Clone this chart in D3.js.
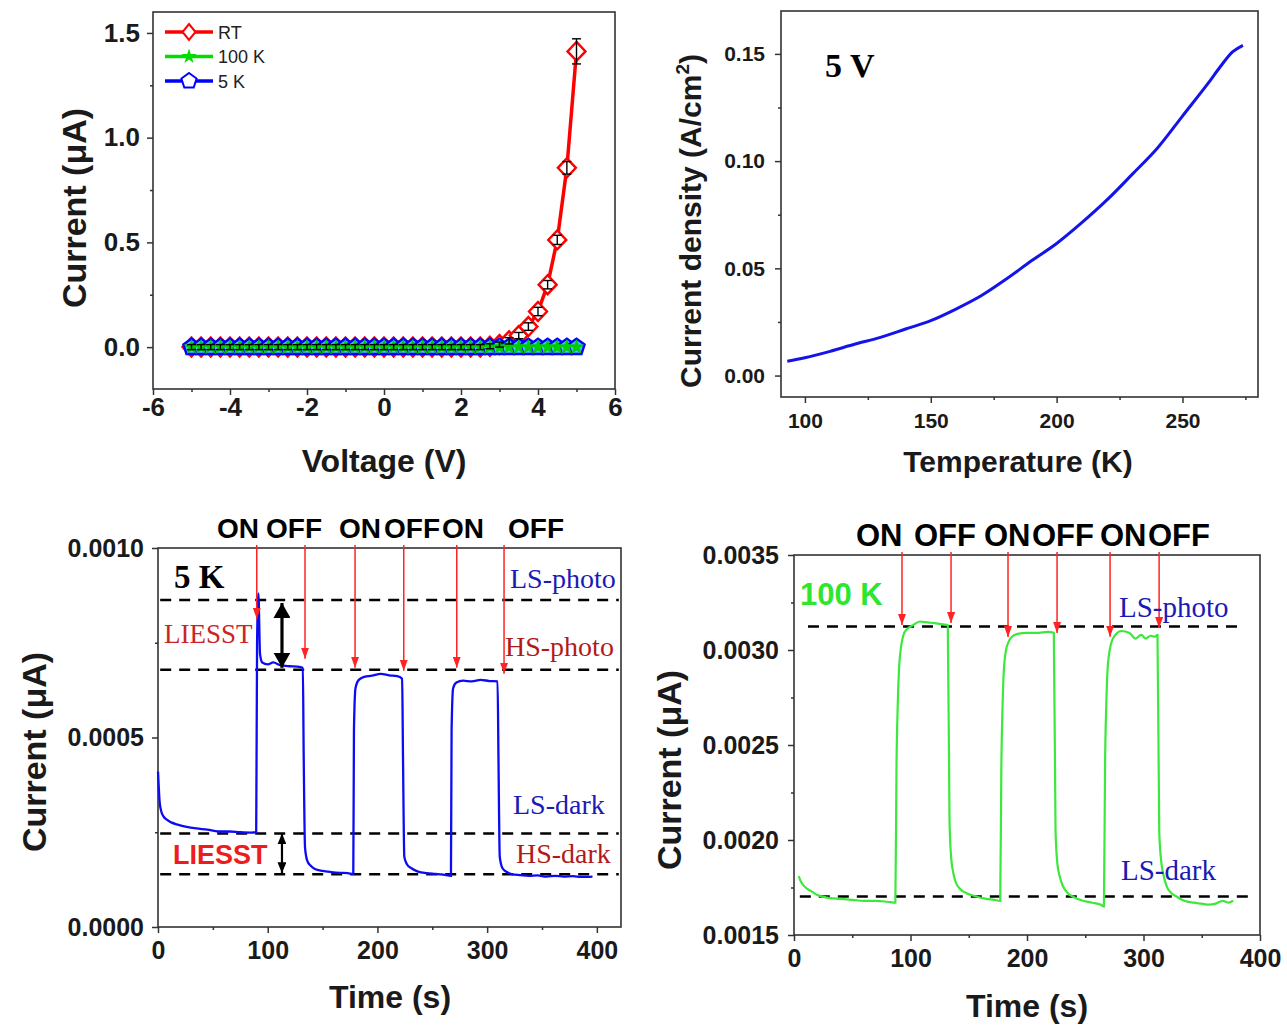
<!DOCTYPE html>
<html>
<head>
<meta charset="utf-8">
<script src="https://cdn.jsdelivr.net/npm/d3@7"></script>
<style>
  body { margin: 0; background: #fff; }
  svg { display: block; font-family: "Liberation Sans", Arial, sans-serif; }
</style>
</head>
<body>
<svg id="fig" width="1287" height="1027"></svg>
<script>
// ---------- (a) I–V curves ----------
const voltage = [-5, -4.75, -4.5, -4.25, -4, -3.75, -3.5, -3.25, -3, -2.75, -2.5, -2.25, -2, -1.75, -1.5, -1.25,
  -1, -0.75, -0.5, -0.25, 0, 0.25, 0.5, 0.75, 1, 1.25, 1.5, 1.75, 2, 2.25, 2.5, 2.75, 3, 3.25, 3.5, 3.75,
  4, 4.25, 4.5, 4.75, 5];
const currentRT = [0, 0, 0, 0, 0, 0, 0, 0, 0, 0, 0, 0, 0, 0, 0, 0, 0, 0, 0, 0, 0, 0, 0, 0, 0, 0, 0, 0, 0, 0, 0,
  0.004, 0.012, 0.03, 0.055, 0.098, 0.17, 0.298, 0.512, 0.856, 1.412];
const errorRT = [0.012, 0.012, 0.012, 0.012, 0.012, 0.012, 0.012, 0.012, 0.012, 0.012, 0.012, 0.012, 0.012, 0.012,
  0.012, 0.012, 0.012, 0.012, 0.012, 0.012, 0.012, 0.012, 0.012, 0.012, 0.012, 0.012, 0.012, 0.012, 0.012, 0.012,
  0.012, 0.012, 0.012, 0.015, 0.015, 0.018, 0.02, 0.02, 0.022, 0.03, 0.06];
const current100K = [0, 0, 0, 0, 0, 0, 0, 0, 0, 0, 0, 0, 0, 0, 0, 0, 0, 0, 0, 0, 0, 0, 0, 0, 0, 0, 0, 0, 0, 0, 0,
  0, 0, 0, 0, 0, 0, 0, 0, 0, 0];
const current5K = [0, 0, 0, 0, 0, 0, 0, 0, 0, 0, 0, 0, 0, 0, 0, 0, 0, 0, 0, 0, 0, 0, 0, 0, 0, 0, 0, 0, 0, 0, 0,
  0, 0, 0, 0, 0, 0, 0, 0, 0, 0];
const ivSeriesNames = ["RT", "100 K", "5 K"];
const ivXTicks = [-6, -4, -2, 0, 2, 4, 6];
const ivYTicks = [0, 0.5, 1.0, 1.5];

// ---------- (b) current density vs temperature at 5 V ----------
const temperature = [93, 100, 110, 120, 130, 140, 150, 160, 170, 180, 190, 200, 210, 220, 230, 240, 250, 260, 265, 270, 274];
const density = [0.0067, 0.0083, 0.0113, 0.0147, 0.0178, 0.0217, 0.0256, 0.031, 0.0372, 0.045, 0.0535, 0.0616,
  0.0713, 0.0819, 0.0938, 0.106, 0.121, 0.136, 0.144, 0.151, 0.154];
const tempXTicks = [100, 150, 200, 250];
const tempYTicks = [0, 0.05, 0.10, 0.15];

// ---------- (c) photo-switching at 5 K ----------
const time5K = [0, 0.5, 1.5, 3, 5, 8, 12, 18, 25, 35, 45, 55, 65, 75, 85, 89.5,
  90.3, 91.5, 93, 95, 100, 105, 112, 120, 127, 132,
  132.8, 134, 136, 139, 143, 150, 158, 166, 173, 178,
  178.6, 180, 183, 188, 195, 203, 211, 218, 222.5,
  223.3, 224.5, 227, 231, 237, 245, 253, 260, 267,
  267.6, 269, 272, 278, 286, 294, 302, 309.5,
  310.3, 311.5, 314, 318, 323, 330, 338, 346, 354, 362, 370, 378, 386, 396];
const current5Kt = [0.00041, 0.00038, 0.00033, 0.000305, 0.000292, 0.000283, 0.000276, 0.00027, 0.000265, 0.00026,
  0.000257, 0.000252, 0.000252, 0.00025, 0.000249, 0.00025,
  0.00075, 0.00088, 0.00072, 0.000698, 0.000693, 0.000698, 0.00069, 0.000688, 0.000687, 0.000684,
  0.00045, 0.00021, 0.000175, 0.000162, 0.000153, 0.000148, 0.000145, 0.000143, 0.000142, 0.00014,
  0.00052, 0.00063, 0.000652, 0.00066, 0.000663, 0.000668, 0.000664, 0.000662, 0.000655,
  0.00045, 0.000185, 0.000165, 0.000155, 0.000146, 0.000142, 0.00014, 0.000138, 0.000135,
  0.00052, 0.00063, 0.000645, 0.00065, 0.000648, 0.000652, 0.000649, 0.000648,
  0.00045, 0.000185, 0.000155, 0.000145, 0.000139, 0.000137, 0.000135, 0.000136, 0.000133, 0.000135,
  0.000133, 0.000134, 0.000132, 0.000133];
const levels5K = [0.000863, 0.000679, 0.000247, 0.000139];   // LS-photo, HS-photo, LS-dark, HS-dark
const switchTimes5K = [90, 134, 179.6, 224, 272.3, 315.4];
const switchTips5K = [0.000813, 0.000708, 0.000684, 0.000676, 0.000684, 0.000668];
const timeXTicks = [0, 100, 200, 300, 400];
const cur5KYTicks = [0, 0.0005, 0.0010];

// ---------- (d) photo-switching at 100 K ----------
const time100K = [4, 6, 10, 15, 20, 30, 40, 50, 60, 70, 80, 87,
  88, 89, 90, 92, 94, 97, 102, 108, 115, 122, 128, 132,
  133.5, 135, 137, 139, 143, 148, 155, 165, 172, 177,
  178, 179, 180, 182, 184, 187, 192, 200, 210, 218, 223,
  224.5, 226, 228, 231, 235, 240, 248, 256, 263, 266,
  267, 268, 269, 271, 273, 276, 281, 288, 293, 298, 302, 306, 310, 312,
  313.5, 315, 317, 320, 324, 329, 335, 343, 350, 356, 362, 368, 373, 377];
const current100Kt = [0.00181, 0.00178, 0.00175, 0.00173, 0.00171, 0.001695, 0.00169, 0.001685, 0.00168, 0.00168, 0.001675, 0.00167,
  0.0024, 0.0027, 0.00288, 0.00302, 0.00308, 0.00311, 0.00313, 0.00315, 0.003145, 0.00314, 0.003135, 0.00313,
  0.0021, 0.0019, 0.00182, 0.001775, 0.00174, 0.00172, 0.001705, 0.00169, 0.001685, 0.00168,
  0.0024, 0.0027, 0.00288, 0.003, 0.00304, 0.00307, 0.003085, 0.00309, 0.00309, 0.003095, 0.00309,
  0.00205, 0.00188, 0.00181, 0.001755, 0.00172, 0.0017, 0.00168, 0.00167, 0.00166, 0.00165,
  0.0024, 0.0027, 0.00288, 0.003, 0.00305, 0.00308, 0.0031, 0.00309, 0.00306, 0.00308, 0.00306, 0.003075, 0.00307, 0.00308,
  0.00205, 0.0019, 0.00182, 0.001755, 0.00172, 0.0017, 0.00168, 0.00167, 0.001665, 0.00166, 0.001665, 0.00168, 0.00167, 0.00168];
const levels100K = [0.003124, 0.001702];   // LS-photo, LS-dark
const switchTimes100K = [92.7, 134.8, 183.7, 225.8, 271.3, 313.4];
const switchTips100K = [0.003132, 0.003142, 0.003068, 0.00309, 0.00307, 0.003116];
const cur100KYTicks = [0.0015, 0.0020, 0.0025, 0.0030, 0.0035];
const switchLabels = ["ON", "OFF", "ON", "OFF", "ON", "OFF"];

// ---------- drawing ----------
const svg = d3.select("#fig");
const SANS = '"Liberation Sans", Arial, sans-serif';
const SERIF = '"Liberation Serif", "Times New Roman", serif';

const defs = svg.append("defs");
defs.append("marker").attr("id", "redHead").attr("viewBox", "0 0 11 8")
  .attr("refX", 11).attr("refY", 4).attr("markerWidth", 11).attr("markerHeight", 8)
  .attr("markerUnits", "userSpaceOnUse").attr("orient", "auto")
  .append("path").attr("d", "M0,0L11,4L0,8Z").attr("fill", "#ff2424");
defs.append("marker").attr("id", "blackHeadBig").attr("viewBox", "0 0 15 17")
  .attr("refX", 15).attr("refY", 8.5).attr("markerWidth", 15).attr("markerHeight", 17)
  .attr("markerUnits", "userSpaceOnUse").attr("orient", "auto-start-reverse")
  .append("path").attr("d", "M0,0L15,8.5L0,17Z").attr("fill", "#000");
defs.append("marker").attr("id", "blackHeadSmall").attr("viewBox", "0 0 11 9")
  .attr("refX", 11).attr("refY", 4.5).attr("markerWidth", 11).attr("markerHeight", 9)
  .attr("markerUnits", "userSpaceOnUse").attr("orient", "auto-start-reverse")
  .append("path").attr("d", "M0,0L11,4.5L0,9Z").attr("fill", "#000");

function minorBetween(ticks) {
  const out = [];
  for (let i = 0; i < ticks.length - 1; i++) out.push((ticks[i] + ticks[i + 1]) / 2);
  return out;
}

function drawAxes(x, y, o) {
  const g = svg.append("g");
  const [x0, x1] = x.range();
  const [y0, y1] = y.range();
  g.append("g").attr("transform", `translate(0,${y0})`)
    .call(d3.axisBottom(x).tickValues(o.xMajor).tickFormat(o.xFmt).tickSize(6).tickPadding(o.xPad).tickSizeOuter(0));
  g.append("g").attr("transform", `translate(0,${y0})`)
    .call(d3.axisBottom(x).tickValues(o.xMinor).tickFormat("").tickSize(3).tickSizeOuter(0));
  g.append("g").attr("transform", `translate(${x0},0)`)
    .call(d3.axisLeft(y).tickValues(o.yMajor).tickFormat(o.yFmt).tickSize(6).tickPadding(o.yPad).tickSizeOuter(0));
  g.append("g").attr("transform", `translate(${x0},0)`)
    .call(d3.axisLeft(y).tickValues(o.yMinor).tickFormat("").tickSize(3).tickSizeOuter(0));
  g.selectAll(".domain").remove();
  g.selectAll(".tick line").attr("stroke", "#333").attr("stroke-width", 1.5);
  g.selectAll(".tick text").attr("font-size", o.fs).attr("font-weight", "bold")
    .attr("font-family", SANS).attr("fill", "#1a1a1a");
  g.append("rect").attr("x", x0).attr("y", y1).attr("width", x1 - x0).attr("height", y0 - y1)
    .attr("fill", "none").attr("stroke", "#333").attr("stroke-width", 1.6);
  return g;
}

function axisTitle(x, y, size, rotate) {
  return svg.append("text").attr("text-anchor", "middle").attr("font-weight", "bold")
    .attr("font-family", SANS).attr("font-size", size).attr("fill", "#1a1a1a")
    .attr("transform", rotate ? `translate(${x},${y}) rotate(-90)` : `translate(${x},${y})`);
}

const serifLabel = (x, y, size, color, txt, bold) => svg.append("text").attr("x", x).attr("y", y)
  .attr("font-family", SERIF).attr("font-size", size).attr("font-weight", bold ? "bold" : "normal")
  .attr("fill", color).text(txt);
const sansLabel = (x, y, size, color, txt) => svg.append("text").attr("x", x).attr("y", y)
  .attr("font-family", SANS).attr("font-size", size).attr("font-weight", "bold")
  .attr("fill", color).text(txt);

// ===== (a) =====
const xA = d3.scaleLinear().domain([-6, 6]).range([153, 615]);
const yA = d3.scaleLinear().domain([-0.2, 1.6]).range([389, 12]);
drawAxes(xA, yA, {
  xMajor: ivXTicks, xMinor: minorBetween(ivXTicks), yMajor: ivYTicks, yMinor: minorBetween(ivYTicks),
  xFmt: d => String(d), yFmt: d3.format(".1f"), fs: 26, xPad: 3, yPad: 7
});
axisTitle(86, 208, 34, true).text("Current (μA)");
axisTitle(384, 472, 32, false).text("Voltage (V)");

const diamondPath = (w, h) => `M0,${-h}L${w},0L0,${h}L${-w},0Z`;
const pentagonPath = r => {
  const pts = d3.range(5).map(k => {
    const a = -Math.PI / 2 + k * 2 * Math.PI / 5;
    return [r * Math.cos(a), r * Math.sin(a)];
  });
  return "M" + pts.map(p => p.join(",")).join("L") + "Z";
};
const starPath = d3.symbol(d3.symbolStar, 80)();

const ivRT = voltage.map((v, i) => ({ v, c: currentRT[i], e: errorRT[i] }));
const iv100 = voltage.map((v, i) => ({ v, c: current100K[i] }));
const iv5 = voltage.map((v, i) => ({ v, c: current5K[i] }));
const lineA = d3.line().x(d => xA(d.v)).y(d => yA(d.c));

const gA = svg.append("g");
gA.append("path").datum(ivRT).attr("d", lineA).attr("fill", "none").attr("stroke", "#ff0000").attr("stroke-width", 3.5);
gA.selectAll(".rt").data(ivRT).join("path").attr("class", "rt")
  .attr("transform", d => `translate(${xA(d.v)},${yA(d.c)})`)
  .attr("d", diamondPath(9, 9.5)).attr("fill", "#fff").attr("stroke", "#ff0000").attr("stroke-width", 2.4);
gA.append("path").datum(iv100).attr("d", lineA).attr("fill", "none").attr("stroke", "#00dd00").attr("stroke-width", 3);
gA.append("path").datum(iv5).attr("d", lineA).attr("fill", "none").attr("stroke", "#0000ff").attr("stroke-width", 3);
gA.selectAll(".p5").data(iv5).join("path").attr("class", "p5")
  .attr("transform", d => `translate(${xA(d.v)},${yA(d.c)})`)
  .attr("d", pentagonPath(8.5)).attr("fill", "#3fc8d8").attr("stroke", "#0000ff").attr("stroke-width", 2.4);
gA.selectAll(".s100").data(iv100).join("path").attr("class", "s100")
  .attr("transform", d => `translate(${xA(d.v)},${yA(d.c)})`)
  .attr("d", starPath).attr("fill", "#00cc00");
// error bars
const eb = gA.selectAll(".eb").data(ivRT).join("g").attr("class", "eb");
eb.append("line").attr("x1", d => xA(d.v)).attr("x2", d => xA(d.v))
  .attr("y1", d => yA(d.c - d.e)).attr("y2", d => yA(d.c + d.e)).attr("stroke", "#000").attr("stroke-width", 1.4);
eb.append("line").attr("x1", d => xA(d.v) - 4.5).attr("x2", d => xA(d.v) + 4.5)
  .attr("y1", d => yA(d.c + d.e)).attr("y2", d => yA(d.c + d.e)).attr("stroke", "#000").attr("stroke-width", 1.4);
eb.append("line").attr("x1", d => xA(d.v) - 4.5).attr("x2", d => xA(d.v) + 4.5)
  .attr("y1", d => yA(d.c - d.e)).attr("y2", d => yA(d.c - d.e)).attr("stroke", "#000").attr("stroke-width", 1.4);

// legend
const legA = svg.append("g");
const legStyle = [
  { color: "#ff0000", shape: "diamond" },
  { color: "#00dd00", shape: "star" },
  { color: "#0000ff", shape: "pentagon" }
];
ivSeriesNames.forEach((name, i) => {
  const yy = 32 + i * 24.5;
  const st = legStyle[i];
  legA.append("line").attr("x1", 165).attr("x2", 213).attr("y1", yy).attr("y2", yy)
    .attr("stroke", st.color).attr("stroke-width", 3.5);
  const m = legA.append("path").attr("transform", `translate(189,${yy})`);
  if (st.shape === "diamond") m.attr("d", diamondPath(6.5, 8)).attr("fill", "#fff").attr("stroke", st.color).attr("stroke-width", 2);
  else if (st.shape === "star") m.attr("d", d3.symbol(d3.symbolStar, 70)()).attr("fill", "#00dd00");
  else m.attr("d", pentagonPath(8)).attr("fill", "#fff").attr("stroke", st.color).attr("stroke-width", 2);
  legA.append("text").attr("x", 218).attr("y", yy + 6.5).attr("font-family", SANS)
    .attr("font-size", 18).attr("fill", "#222").text(name);
});

// ===== (b) =====
const xB = d3.scaleLinear().domain([90.5, 280]).range([781, 1258]);
const yB = d3.scaleLinear().domain([-0.01, 0.17]).range([397, 11]);
drawAxes(xB, yB, {
  xMajor: tempXTicks, xMinor: [125, 175, 225, 275], yMajor: tempYTicks, yMinor: minorBetween(tempYTicks),
  xFmt: d => String(d), yFmt: d3.format(".2f"), fs: 21, xPad: 10, yPad: 10
});
const tB = axisTitle(701, 221, 30, true);
tB.append("tspan").text("Current density (A/cm");
tB.append("tspan").attr("font-size", 19).attr("dy", -12).text("2");
tB.append("tspan").attr("dy", 12).text(")");
axisTitle(1018, 472, 30, false).text("Temperature (K)");
svg.append("path").datum(temperature.map((t, i) => ({ t, j: density[i] })))
  .attr("d", d3.line().x(d => xB(d.t)).y(d => yB(d.j)).curve(d3.curveCatmullRom))
  .attr("fill", "none").attr("stroke", "#1414e8").attr("stroke-width", 3);
serifLabel(825, 77, 34, "#000", "5 V", true);

// ===== (c) =====
const xC = d3.scaleLinear().domain([0, 422]).range([158, 621]);
const yC = d3.scaleLinear().domain([0, 0.001]).range([927, 548]);
drawAxes(xC, yC, {
  xMajor: timeXTicks, xMinor: minorBetween(timeXTicks), yMajor: cur5KYTicks, yMinor: minorBetween(cur5KYTicks),
  xFmt: d => String(d), yFmt: d3.format(".4f"), fs: 25, xPad: 8, yPad: 8
});
axisTitle(46, 752, 34, true).text("Current (μA)");
axisTitle(390, 1008, 32, false).text("Time (s)");

const gC = svg.append("g");
gC.selectAll(".lvl").data(levels5K).join("line").attr("class", "lvl")
  .attr("x1", xC(2)).attr("x2", xC(420)).attr("y1", d => yC(d)).attr("y2", d => yC(d))
  .attr("stroke", "#000").attr("stroke-width", 2.5).attr("stroke-dasharray", "11,8");
gC.append("path").datum(time5K.map((t, i) => ({ t, c: current5Kt[i] })))
  .attr("d", d3.line().x(d => xC(d.t)).y(d => yC(d.c)).curve(d3.curveMonotoneX))
  .attr("fill", "none").attr("stroke", "#0c0cf4").attr("stroke-width", 2.3);
gC.selectAll(".sw").data(switchTimes5K).join("line").attr("class", "sw")
  .attr("x1", d => xC(d)).attr("x2", d => xC(d)).attr("y1", yC(0.001) - 3).attr("y2", (d, i) => yC(switchTips5K[i]))
  .attr("stroke", "#ff2424").attr("stroke-width", 1.5).attr("marker-end", "url(#redHead)");
gC.append("line").attr("x1", xC(113)).attr("x2", xC(113)).attr("y1", yC(0.000855)).attr("y2", yC(0.000684))
  .attr("stroke", "#000").attr("stroke-width", 3.2)
  .attr("marker-start", "url(#blackHeadBig)").attr("marker-end", "url(#blackHeadBig)");
gC.append("line").attr("x1", xC(113)).attr("x2", xC(113)).attr("y1", yC(0.000247)).attr("y2", yC(0.000142))
  .attr("stroke", "#000").attr("stroke-width", 2.2)
  .attr("marker-start", "url(#blackHeadSmall)").attr("marker-end", "url(#blackHeadSmall)");
[217, 266, 339, 384, 442, 508].forEach((px, i) => sansLabel(px, 538, 28, "#000", switchLabels[i]));
serifLabel(174, 588, 33, "#000", "5 K", true);
serifLabel(510, 588, 28, "#1a1ab4", "LS-photo");
serifLabel(164, 643, 27, "#cc2424", "LIESST");
serifLabel(505, 656, 28, "#b21a1a", "HS-photo");
serifLabel(513, 814, 28, "#1a1ab4", "LS-dark");
serifLabel(516, 863, 28, "#b21a1a", "HS-dark");
sansLabel(173, 864, 27, "#ee1c1c", "LIESST");

// ===== (d) =====
const xD = d3.scaleLinear().domain([0, 400]).range([794, 1260]);
const yD = d3.scaleLinear().domain([0.0015, 0.0035]).range([935, 555]);
drawAxes(xD, yD, {
  xMajor: timeXTicks, xMinor: minorBetween(timeXTicks), yMajor: cur100KYTicks, yMinor: minorBetween(cur100KYTicks),
  xFmt: d => String(d), yFmt: d3.format(".4f"), fs: 25, xPad: 8, yPad: 9
});
axisTitle(681, 770, 34, true).text("Current (μA)");
axisTitle(1027, 1017, 32, false).text("Time (s)");

const gD = svg.append("g");
gD.append("line").attr("x1", xD(12)).attr("x2", xD(385)).attr("y1", yD(levels100K[0])).attr("y2", yD(levels100K[0]))
  .attr("stroke", "#000").attr("stroke-width", 2.5).attr("stroke-dasharray", "11,8");
gD.append("line").attr("x1", xD(5)).attr("x2", xD(394)).attr("y1", yD(levels100K[1])).attr("y2", yD(levels100K[1]))
  .attr("stroke", "#000").attr("stroke-width", 2.5).attr("stroke-dasharray", "11,8");
gD.append("path").datum(time100K.map((t, i) => ({ t, c: current100Kt[i] })))
  .attr("d", d3.line().x(d => xD(d.t)).y(d => yD(d.c)).curve(d3.curveMonotoneX))
  .attr("fill", "none").attr("stroke", "#3ce83c").attr("stroke-width", 2.2);
gD.selectAll(".sw").data(switchTimes100K).join("line").attr("class", "sw")
  .attr("x1", d => xD(d)).attr("x2", d => xD(d)).attr("y1", yD(0.0035) - 3).attr("y2", (d, i) => yD(switchTips100K[i]))
  .attr("stroke", "#ff2424").attr("stroke-width", 1.5).attr("marker-end", "url(#redHead)");
[856, 914, 984, 1032, 1100, 1148].forEach((px, i) => sansLabel(px, 546, 31, "#000", switchLabels[i]));
sansLabel(800, 605, 31, "#2ee62e", "100 K");
serifLabel(1119, 617, 29, "#1a1ab4", "LS-photo");
serifLabel(1121, 880, 29, "#1a1ab4", "LS-dark");
</script>
</body>
</html>
